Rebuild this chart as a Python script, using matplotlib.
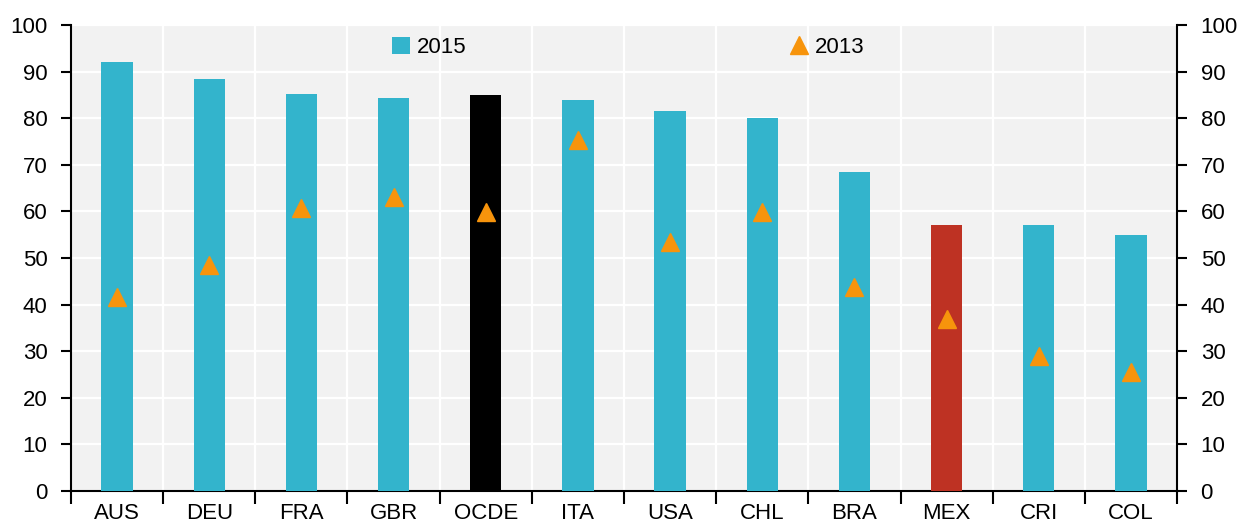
import numpy as np
import matplotlib
matplotlib.use("Agg")
import matplotlib.pyplot as plt
from matplotlib.lines import Line2D
from matplotlib.patches import Patch

plt.rcParams['font.family'] = ['Liberation Sans', 'DejaVu Sans']

countries = ['AUS', 'DEU', 'FRA', 'GBR', 'OCDE', 'ITA', 'USA', 'CHL', 'BRA', 'MEX', 'CRI', 'COL']
values_2015 = [92.1, 88.4, 85.2, 84.3, 85.0, 83.9, 81.5, 80.0, 68.5, 57.1, 57.1, 54.9]
values_2013 = [41.6, 48.5, 60.7, 63.1, 59.9, 75.3, 53.5, 59.9, 43.8, 36.9, 29.0, 25.5]
yticks = list(range(0, 101, 10))

CYAN = '#33B4CC'
ORANGE = '#F7940C'
highlight = {'OCDE': '#000000', 'MEX': '#BE3223'}
bar_colors = [highlight.get(c, CYAN) for c in countries]

fig = plt.figure(figsize=(12.47, 5.26), dpi=100)
ax = fig.add_axes([71 / 1247, 1 - 491 / 526, (1177 - 71) / 1247, (491 - 25) / 526])
ax.set_facecolor('#F2F2F2')

x = np.arange(len(countries))
ax.bar(x, values_2015, width=0.34, color=bar_colors, zorder=3)
ax.plot(x, values_2013, linestyle='none', marker='^', markersize=13,
        color=ORANGE, zorder=4)

ax.set_xlim(-0.5, len(countries) - 0.5)
ax.set_ylim(0, 100)

# grid: white horizontal at each tick, vertical at category boundaries
for y in yticks[1:]:
    ax.axhline(y, color='white', lw=1.6, zorder=1)
for b in np.arange(0.5, len(countries) - 0.5, 1):
    ax.axvline(b, color='white', lw=1.6, zorder=1)

ax.set_xticks(np.arange(-0.5, len(countries), 1))
ax.set_xticklabels([])
ax.set_xticks(x, minor=True)
ax.set_xticklabels(countries, minor=True, fontsize=16)
ax.tick_params(axis='x', which='major', direction='out', length=9, width=1.5, color='black')
ax.tick_params(axis='x', which='minor', length=0, pad=8.5)

ax.set_yticks(yticks)
ax.tick_params(axis='y', direction='out', length=7, width=1.5, labelsize=16,
               left=True, right=True, labelleft=True, labelright=True, pad=10)

ax.spines['top'].set_visible(False)
for s in ['left', 'right', 'bottom']:
    ax.spines[s].set_linewidth(1.5)
    ax.spines[s].set_color('black')

handles = [Patch(facecolor=CYAN, edgecolor='none', label='2015'),
           Line2D([], [], linestyle='none', marker='^', markersize=13, color=ORANGE, label='2013')]
ax.legend(handles=handles, ncol=2, loc='center left', bbox_to_anchor=((392 - 71) / 1106, 0.952),
          frameon=False, fontsize=16, handlelength=0.8, handleheight=0.8, handletextpad=0.3,
          columnspacing=14.6, borderpad=0, borderaxespad=0)

fig.savefig('out.png', dpi=100)
